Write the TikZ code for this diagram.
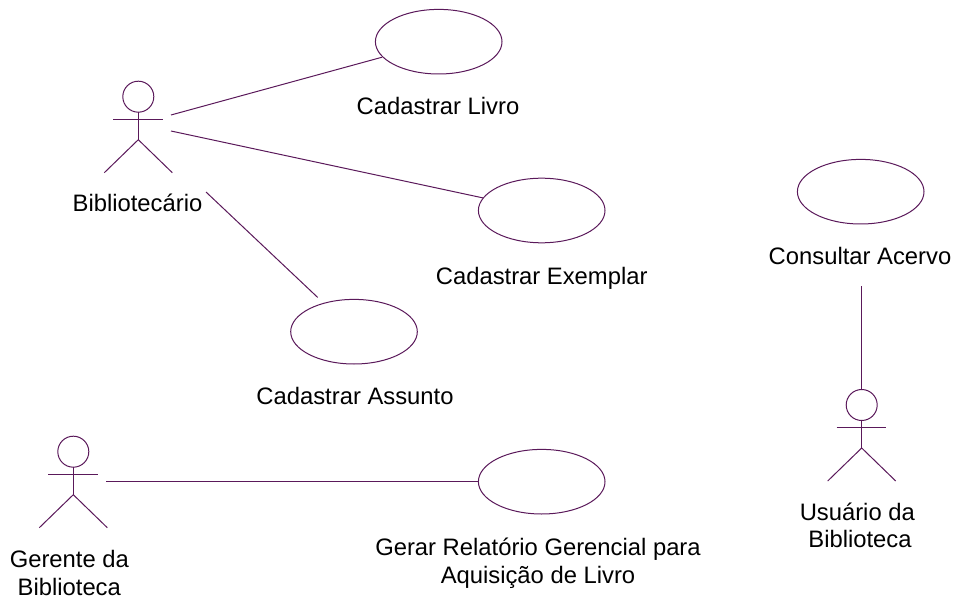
\documentclass[tikz,border=0pt]{standalone}
\usepackage{fontspec}
\setmainfont{Liberation Sans}
\usetikzlibrary{shapes.geometric}
\definecolor{umlpurple}{RGB}{90,25,90}
\tikzset{
  usecase/.style={ellipse, draw=umlpurple, line width=1pt, minimum width=126.6pt, minimum height=64.6pt, inner sep=0pt},
  lbl/.style={anchor=base, font=\fontsize{23.8}{28}\selectfont, text=black, inner sep=0pt},
  assoc/.style={draw=umlpurple, line width=1pt},
  stickline/.style={draw=umlpurple, line width=1pt},
}
% name, x and y of head centre
\newcommand{\umlactor}[3]{%
  \draw[stickline] (#2,#3) circle[radius=15.5pt];
  \draw[stickline] (#2-25,#3+22.5) -- (#2+24.5,#3+22.5);
  \draw[stickline] (#2,#3+15.5) -- (#2,#3+43);
  \draw[stickline] (#2-34,#3+76) -- (#2,#3+43) -- (#2+34,#3+76);
  \node[inner sep=0pt, minimum width=68pt, minimum height=92pt] (#1) at (#2,#3+30) {};
}
\begin{document}
\begin{tikzpicture}[x=1pt,y=-1pt]
\useasboundingbox (0,0) rectangle (956,604);

% actors
\umlactor{bib}{138.3}{96.7}
\umlactor{ger}{73.3}{451.7}
\umlactor{usr}{861.7}{405}

\node[lbl] (bibL) at (137.5,211.7) {Bibliotecário};
\node[lbl] (gerL1) at (69.3,567.7) {Gerente da};
\node[lbl] (gerL2) at (69.3,595) {Biblioteca};
\node[lbl] (usrL1) at (857.3,520) {Usuário da};
\node[lbl] (usrL2) at (860,547.3) {Biblioteca};

% use cases
\node[usecase] (livro) at (438.7,41.7) {};
\node[usecase] (exemplar) at (541.7,210.5) {};
\node[usecase] (assunto) at (354,331.7) {};
\node[usecase] (gerar) at (541.7,481.7) {};
\node[usecase] (consultar) at (860.7,191.7) {};

\node[lbl] (livroL) at (438,115) {Cadastrar Livro};
\node[lbl] (exemplarL) at (541.7,284) {Cadastrar Exemplar};
\node[lbl] (assuntoL) at (355,404.3) {Cadastrar Assunto};
\node[lbl] (gerarL1) at (538,555) {Gerar Relatório Gerencial para};
\node[lbl] (gerarL2) at (538,583.3) {Aquisição de Livro};
\node[lbl] (consultarL) at (860,265) {Consultar Acervo};

% connector end points
\coordinate (bib1) at (171,115);
\coordinate (bib2) at (171,131);
\coordinate (bib3) at (206,192);
\coordinate (ger1) at (106,481.7);
\coordinate (cons1) at (861,286);
\coordinate (usr1) at (861,389.5);

% associations
\draw[assoc] (bib1) -- (livro);
\draw[assoc] (bib2) -- (exemplar);
\draw[assoc, shorten >=8pt] (bib3) -- (assunto);
\draw[assoc] (ger1) -- (gerar.west);
\draw[assoc] (cons1) -- (usr1);
\end{tikzpicture}
\end{document}
